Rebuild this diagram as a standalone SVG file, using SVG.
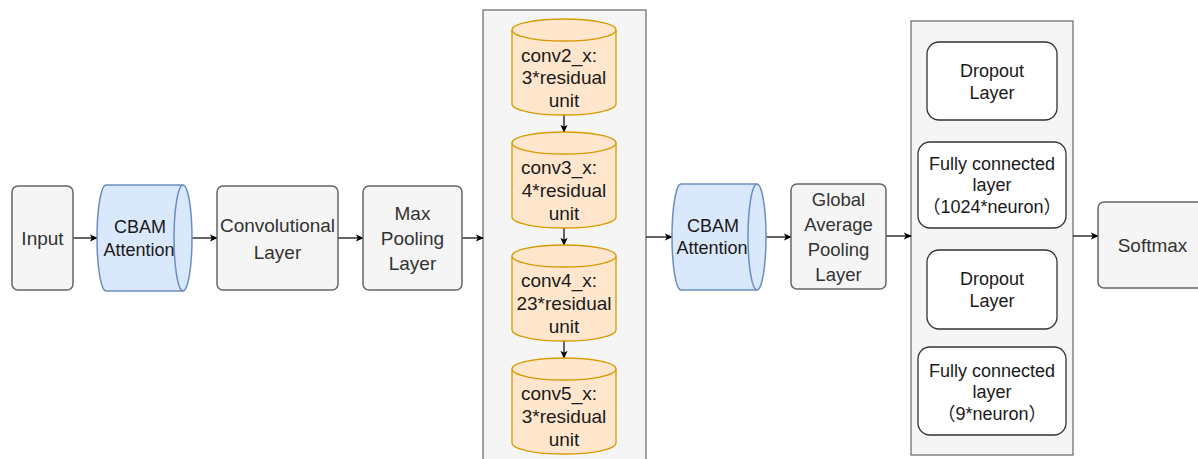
<svg xmlns="http://www.w3.org/2000/svg" width="1198" height="459" viewBox="0 0 1198 459">
<defs>
<marker id="ah" viewBox="0 0 10 10" refX="9" refY="5" markerWidth="8" markerHeight="8" markerUnits="userSpaceOnUse" orient="auto">
<path d="M0,0.5 L10,5 L0,9.5 L2.5,5 Z" fill="#000"/>
</marker>
<style>
.gray{fill:#f5f5f5;stroke:#666666;stroke-width:1.5}
.cont{fill:#f5f5f5;stroke:#666666;stroke-width:1.2}
.blue{fill:#dae8fc;stroke:#6c8ebf;stroke-width:1.5}
.orange{fill:#ffe6cc;stroke:#d79b00;stroke-width:1.3}
.white{fill:#ffffff;stroke:#333333;stroke-width:1.3}
.conn{stroke:#000;stroke-width:1.2;fill:none;marker-end:url(#ah)}
text{font-family:"Liberation Sans",Arial,"Noto Sans CJK SC",sans-serif;text-anchor:middle}
.tg{fill:#333333;font-size:19px}
.tb{fill:#1a1a1a;font-size:18px}
.tc{fill:#1a1a1a;font-size:19px}
</style>
</defs>
<rect width="1198" height="459" fill="#ffffff"/>

<g id="container-resnet">
<rect class="cont" x="483" y="10" width="163" height="460"/>
</g>
<g id="container-fc">
<rect class="cont" x="911" y="21" width="162" height="434"/>
</g>

<g id="connectors">
<line class="conn" x1="73" y1="238" x2="97" y2="238"/>
<line class="conn" x1="192" y1="238" x2="217" y2="238"/>
<line class="conn" x1="338" y1="238" x2="363" y2="238"/>
<line class="conn" x1="462" y1="238" x2="483" y2="238"/>
<line class="conn" x1="564" y1="115" x2="564" y2="132"/>
<line class="conn" x1="564" y1="228" x2="564" y2="245"/>
<line class="conn" x1="564" y1="341" x2="564" y2="358"/>
<line class="conn" x1="646" y1="237" x2="672" y2="237"/>
<line class="conn" x1="766" y1="237" x2="791" y2="237"/>
<line class="conn" x1="886" y1="236" x2="911" y2="236"/>
<line class="conn" x1="1073" y1="236" x2="1098" y2="236"/>
</g>

<g id="input">
<rect class="gray" x="12" y="186" width="61" height="104" rx="6"/>
<text class="tg" x="42.5" y="245">Input</text>
</g>

<g id="cbam1">
<path class="blue" d="M106,185 L183,185 A9,53 0 0 1 183,291 L106,291 A9,53 0 0 1 106,185 Z"/>
<path class="blue" d="M183,185 A9,53 0 0 0 183,291" fill="none"/>
<text class="tb" x="140" y="233">CBAM</text>
<text class="tb" x="139" y="256">Attention</text>
</g>

<g id="conv">
<rect class="gray" x="217" y="186" width="121" height="104" rx="6"/>
<text class="tg" x="277.5" y="232">Convolutional</text>
<text class="tg" x="277.5" y="259">Layer</text>
</g>

<g id="maxpool">
<rect class="gray" x="363" y="186" width="99" height="104" rx="6"/>
<text class="tg" x="412.5" y="220">Max</text>
<text class="tg" x="412.5" y="245">Pooling</text>
<text class="tg" x="412.5" y="270">Layer</text>
</g>

<g id="conv2">
<path class="orange" d="M512,30 A52,11 0 0 1 616,30 L616,104 A52,11 0 0 1 512,104 Z"/>
<path class="orange" d="M512,30 A52,11 0 0 0 616,30" fill="none"/>
<text class="tc" x="559" y="62">conv2_x:</text>
<text class="tc" x="564" y="84">3*residual</text>
<text class="tc" x="564" y="107">unit</text>
</g>

<g id="conv3">
<path class="orange" d="M512,143 A52,11 0 0 1 616,143 L616,217 A52,11 0 0 1 512,217 Z"/>
<path class="orange" d="M512,143 A52,11 0 0 0 616,143" fill="none"/>
<text class="tc" x="559" y="174">conv3_x:</text>
<text class="tc" x="564" y="197">4*residual</text>
<text class="tc" x="564" y="220">unit</text>
</g>

<g id="conv4">
<path class="orange" d="M512,256 A52,11 0 0 1 616,256 L616,330 A52,11 0 0 1 512,330 Z"/>
<path class="orange" d="M512,256 A52,11 0 0 0 616,256" fill="none"/>
<text class="tc" x="559" y="287">conv4_x:</text>
<text class="tc" x="564" y="310">23*residual</text>
<text class="tc" x="564" y="333">unit</text>
</g>

<g id="conv5">
<path class="orange" d="M512,369 A52,11 0 0 1 616,369 L616,443 A52,11 0 0 1 512,443 Z"/>
<path class="orange" d="M512,369 A52,11 0 0 0 616,369" fill="none"/>
<text class="tc" x="559" y="400">conv5_x:</text>
<text class="tc" x="564" y="423">3*residual</text>
<text class="tc" x="564" y="446">unit</text>
</g>

<g id="cbam2">
<path class="blue" d="M681,184 L757,184 A9,53 0 0 1 757,290 L681,290 A9,53 0 0 1 681,184 Z"/>
<path class="blue" d="M757,184 A9,53 0 0 0 757,290" fill="none"/>
<text class="tb" x="713" y="232">CBAM</text>
<text class="tb" x="712" y="254">Attention</text>
</g>

<g id="gap">
<rect class="gray" x="791" y="184" width="95" height="105" rx="6"/>
<text class="tg" x="838.5" y="206" style="font-size:18.5px">Global</text>
<text class="tg" x="838.5" y="231" style="font-size:18.5px">Average</text>
<text class="tg" x="838.5" y="256" style="font-size:18.5px">Pooling</text>
<text class="tg" x="838.5" y="281" style="font-size:18.5px">Layer</text>
</g>

<g id="dropout1">
<rect class="white" x="927" y="42" width="130" height="78" rx="12"/>
<text class="tb" x="992" y="77">Dropout</text>
<text class="tb" x="992" y="99">Layer</text>
</g>

<g id="fc1">
<rect class="white" x="918" y="142" width="148" height="86" rx="12"/>
<text class="tb" x="992" y="170">Fully connected</text>
<text class="tb" x="992" y="191">layer</text>
<text class="tb" x="992" y="213">（1024*neuron）</text>
</g>

<g id="dropout2">
<rect class="white" x="927" y="250" width="130" height="79" rx="12"/>
<text class="tb" x="992" y="285">Dropout</text>
<text class="tb" x="992" y="307">Layer</text>
</g>

<g id="fc2">
<rect class="white" x="918" y="347" width="148" height="88" rx="12"/>
<text class="tb" x="992" y="377">Fully connected</text>
<text class="tb" x="992" y="398">layer</text>
<text class="tb" x="992" y="420">（9*neuron）</text>
</g>

<g id="softmax">
<rect class="gray" x="1098" y="202" width="109" height="86" rx="6"/>
<text class="tg" x="1152.5" y="252">Softmax</text>
</g>
</svg>
